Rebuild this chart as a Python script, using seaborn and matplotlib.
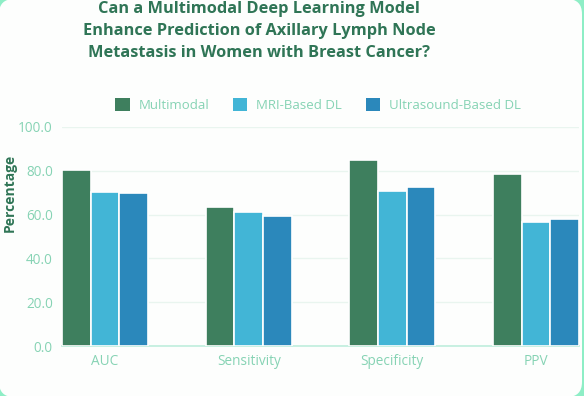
import matplotlib
matplotlib.use("Agg")
import matplotlib.pyplot as plt
import seaborn as sns
import pandas as pd
from matplotlib.patches import FancyBboxPatch, Patch
from matplotlib.transforms import IdentityTransform

metrics = ["AUC", "Sensitivity", "Specificity", "PPV"]
models = ["Multimodal", "MRI-Based DL", "Ultrasound-Based DL"]
multimodal = [80.4, 63.5, 84.9, 78.7]
mri_dl = [70.5, 61.2, 70.6, 56.5]
us_dl = [70.0, 59.2, 72.8, 58.0]
yticks = [0, 20, 40, 60, 80, 100]

title = ("Can a Multimodal Deep Learning Model\n"
         "Enhance Prediction of Axillary Lymph Node\n"
         "Metastasis in Women with Breast Cancer?")

colors = ["#3e7f5e", "#42b5d6", "#2b88bb"]
mint = "#86d3b4"
dark = "#2f7556"

rows = []
for name, vals in zip(models, [multimodal, mri_dl, us_dl]):
    for m, v in zip(metrics, vals):
        rows.append({"Metric": m, "Model": name, "Value": v})
df = pd.DataFrame(rows)

sns.set_theme(style="white")
plt.rcParams["font.family"] = ["Open Sans", "DejaVu Sans"]

fig = plt.figure(figsize=(5.84, 3.96), dpi=100)
fig.patch.set_facecolor("#8eeec6")
card = FancyBboxPatch((-1, -1), 583, 398, boxstyle="round,pad=0,rounding_size=15",
                      transform=IdentityTransform(), facecolor="#fdfefd",
                      edgecolor="none", zorder=-10)
fig.patches.append(card)

ax = fig.add_axes([62/584, 1-346/396, (579-62)/584, (346-127)/396])
ax.set_zorder(1)
ax.set_facecolor("none")
sns.barplot(data=df, x="Metric", y="Value", hue="Model", palette=colors,
            width=0.6, saturation=1, edgecolor="white", linewidth=1.2,
            ax=ax, zorder=3)
ax.set_xlim(-0.3, 3.3)
ax.set_ylim(0, 100)
ax.set_yticks(yticks)
ax.set_yticklabels([f"{v:.1f}" for v in yticks])
ax.grid(axis="y", color="#e9f5ef", linewidth=1, zorder=0)
ax.set_axisbelow(True)
for s in ["top", "right", "left"]:
    ax.spines[s].set_visible(False)
ax.spines["bottom"].set_color("#bfeedd")
ax.spines["bottom"].set_linewidth(1.2)
ax.tick_params(axis="both", length=0, labelsize=9.8, labelcolor=mint)
ax.tick_params(axis="y", pad=6.5)
ax.tick_params(axis="x", pad=5.5)
ax.set_xlabel("")
ax.set_ylabel("Percentage", fontsize=10, fontweight="bold", color=dark)
ax.yaxis.set_label_coords(-45/517, 0.70)

handles = [Patch(facecolor=c, edgecolor="none") for c in colors]
ax.legend(handles, models, loc="center", bbox_to_anchor=(0.495, 1.1),
          ncol=3, frameon=False, fontsize=9.5, labelcolor=mint,
          handlelength=1.1, handleheight=1.1, handletextpad=0.65,
          columnspacing=1.8)

fig.text(259/584, 1-31/396, title, ha="center", va="center", fontsize=11.8,
         fontweight="bold", color=dark, linespacing=1.5)

fig.savefig("out.png", dpi=100, facecolor=fig.get_facecolor())
